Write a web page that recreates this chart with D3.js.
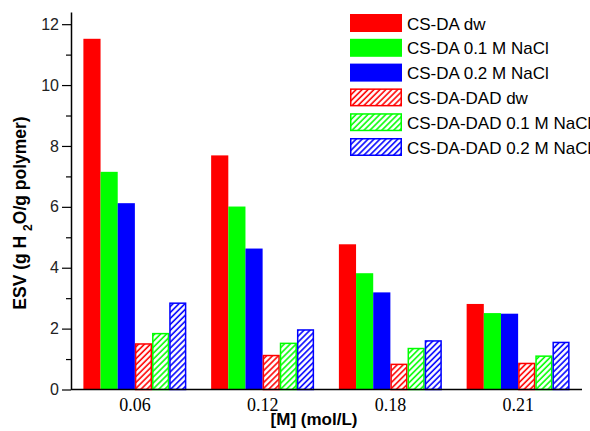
<!DOCTYPE html>
<html>
<head>
<meta charset="utf-8">
<script src="https://cdn.jsdelivr.net/npm/d3@7"></script>
<style>
  body { margin: 0; background: #fff; }
  svg { display: block; }
</style>
</head>
<body>
<svg id="chart" width="590" height="431"></svg>
<script>
const categories = ["0.06", "0.12", "0.18", "0.21"];
const seriesNames = ["CS-DA dw", "CS-DA 0.1 M NaCl", "CS-DA 0.2 M NaCl",
                     "CS-DA-DAD dw", "CS-DA-DAD 0.1 M NaCl", "CS-DA-DAD 0.2 M NaCl"];
const seriesColors = ["#ff0000", "#00ff00", "#0000ff", "#ff0000", "#00ff00", "#0000ff"];
const seriesHatched = [false, false, false, true, true, true];
const csdaDw      = [11.52, 7.69, 4.77, 2.81];
const csda01      = [7.15, 6.01, 3.82, 2.51];
const csda02      = [6.12, 4.63, 3.19, 2.49];
const csdadadDw   = [1.52, 1.14, 0.85, 0.88];
const csdadad01   = [1.86, 1.54, 1.37, 1.12];
const csdadad02   = [2.86, 1.98, 1.62, 1.57];
const seriesValues = [csdaDw, csda01, csda02, csdadadDw, csdadad01, csdadad02];
const yTicks = [0, 2, 4, 6, 8, 10, 12];
const yMinorTicks = [1, 3, 5, 7, 9, 11];

const svg = d3.select("#chart");
const mLeft = 71, mRight = 582, mTop = 12, mBottom = 389.5;

const x0 = d3.scaleBand().domain(categories).range([mLeft, mRight])
  .paddingInner(0.194).paddingOuter(0.097);
const x1 = d3.scaleBand().domain(d3.range(seriesNames.length)).range([0, x0.bandwidth()]).padding(0);
const y = d3.scaleLinear().domain([0, 12.4]).range([mBottom, mTop]);

// hatch patterns
const defs = svg.append("defs");
seriesColors.forEach((c, i) => {
  if (!seriesHatched[i]) return;
  const p = defs.append("pattern").attr("id", "hatch" + i)
    .attr("patternUnits", "userSpaceOnUse")
    .attr("width", 4.2).attr("height", 10)
    .attr("patternTransform", "rotate(45)");
  p.append("rect").attr("width", 4.2).attr("height", 10).attr("fill", "#fff");
  p.append("line").attr("x1", 1).attr("x2", 1).attr("y1", 0).attr("y2", 10)
    .attr("stroke", c).attr("stroke-width", 1.6);
});

function fillFor(i) { return seriesHatched[i] ? `url(#hatch${i})` : seriesColors[i]; }

// bars
const groups = svg.append("g").selectAll("g").data(categories).join("g")
  .attr("transform", d => `translate(${x0(d)},0)`);
groups.selectAll("rect").data((d, ci) => seriesValues.map((vals, si) => ({si, v: vals[ci]})))
  .join("rect")
  .attr("x", d => x1(d.si) + (seriesHatched[d.si] ? 0.75 : 0))
  .attr("width", d => x1.bandwidth() - (seriesHatched[d.si] ? 1.5 : 0))
  .attr("y", d => y(d.v) + (seriesHatched[d.si] ? 0.75 : 0))
  .attr("height", d => mBottom - y(d.v) - (seriesHatched[d.si] ? 0.75 : 0))
  .attr("fill", d => fillFor(d.si))
  .attr("stroke", d => seriesHatched[d.si] ? seriesColors[d.si] : "none")
  .attr("stroke-width", 1.5);

// y axis
const yAxis = svg.append("g").attr("transform", `translate(${mLeft},0)`)
  .call(d3.axisLeft(y).tickValues(yTicks).tickFormat(d3.format("d")).tickSize(9).tickPadding(3).tickSizeOuter(0));
yAxis.select(".domain").attr("stroke", "#000").attr("stroke-width", 1.5);
yAxis.selectAll(".tick line").attr("stroke-width", 1.2);
yAxis.selectAll("text").attr("font-family", "Arial, 'Liberation Sans', sans-serif")
  .attr("font-size", 16).attr("fill", "#222");
svg.append("g").attr("transform", `translate(${mLeft},0)`)
  .call(d3.axisLeft(y).tickValues(yMinorTicks).tickFormat("").tickSize(5).tickSizeOuter(0))
  .call(g => g.select(".domain").remove())
  .selectAll(".tick line").attr("stroke-width", 1.2);

// x axis
const xAxis = svg.append("g").attr("transform", `translate(0,${mBottom})`)
  .call(d3.axisBottom(x0).tickSize(0).tickPadding(9).tickSizeOuter(0));
xAxis.select(".domain").attr("stroke", "#000").attr("stroke-width", 1.5)
  .attr("d", `M${mLeft},0H${mRight}`);
xAxis.selectAll("text").attr("font-family", "'Times New Roman', 'Liberation Serif', serif")
  .attr("font-size", 18).attr("fill", "#000").attr("dy", "0.71em");

// axis titles
svg.append("text").attr("x", 314).attr("y", 425).attr("text-anchor", "middle")
  .attr("font-family", "Arial, 'Liberation Sans', sans-serif").attr("font-weight", "bold")
  .attr("font-size", 17).text("[M] (mol/L)");

const yt = svg.append("text").attr("transform", "translate(26,213) rotate(-90)")
  .attr("text-anchor", "middle")
  .attr("font-family", "Arial, 'Liberation Sans', sans-serif").attr("font-weight", "bold")
  .attr("font-size", 17.5);
yt.append("tspan").text("ESV (g H ");
yt.append("tspan").attr("font-size", 12).attr("dy", 6).text("2");
yt.append("tspan").attr("dy", -6).text("O/g polymer)");

// legend
const legend = svg.append("g");
const lg = legend.selectAll("g").data(seriesNames).join("g")
  .attr("transform", (d, i) => `translate(350,${14 + i * 24.8})`);
lg.append("rect")
  .attr("x", (d, i) => seriesHatched[i] ? 0.75 : 0)
  .attr("y", (d, i) => seriesHatched[i] ? 0.75 : 0)
  .attr("width", (d, i) => seriesHatched[i] ? 50.5 : 52)
  .attr("height", (d, i) => seriesHatched[i] ? 16.5 : 18)
  .attr("fill", (d, i) => fillFor(i))
  .attr("stroke", (d, i) => seriesHatched[i] ? seriesColors[i] : "none")
  .attr("stroke-width", 1.5);
lg.append("text").attr("x", 57).attr("y", 15.5)
  .attr("font-family", "Arial, 'Liberation Sans', sans-serif").attr("font-size", 17)
  .attr("fill", "#000").text(d => d);
</script>
</body>
</html>
